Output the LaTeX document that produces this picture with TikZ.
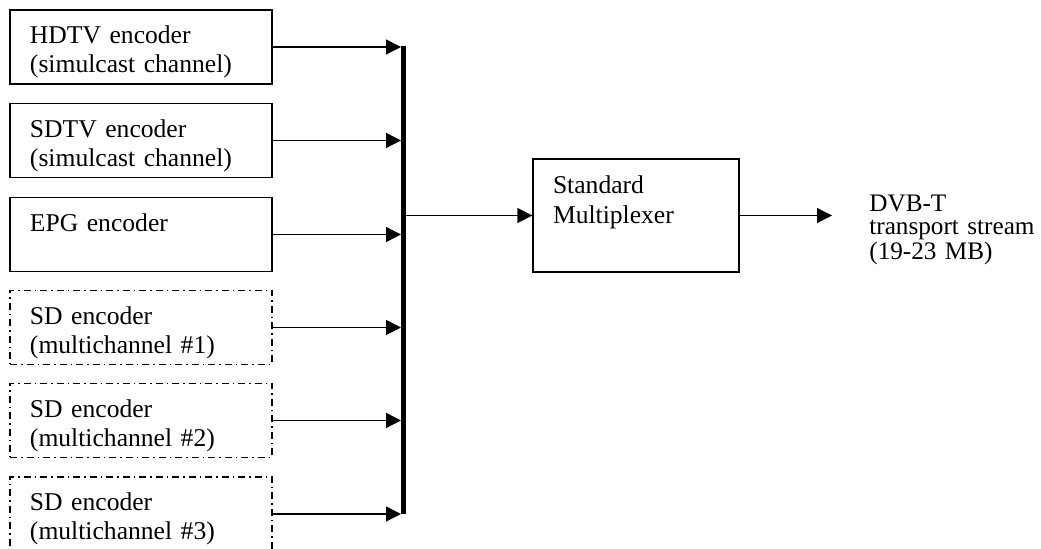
\documentclass[tikz,border=0pt]{standalone}
\usepackage{fontspec}
\setmainfont{Liberation Serif}
\usetikzlibrary{arrows.meta}

\begin{document}
\begin{tikzpicture}[x=0.5pt,y=-0.5pt,
   enc/.style={draw,line width=0.65pt,align=left,text width=111pt,inner xsep=10pt,inner ysep=0pt,
      text height=17pt,text depth=20pt,font=\fontsize{12.8pt}{14.3pt}\selectfont},
   sdenc/.style={enc,dash pattern=on 3.5pt off 2pt on 0.75pt off 2pt},
   mux/.style={draw,line width=0.65pt,align=left,text width=83pt,inner xsep=10pt,inner ysep=0pt,
      text height=17.5pt,text depth=39pt,font=\fontsize{12.8pt}{15pt}\selectfont},
   outtxt/.style={anchor=base west,align=left,text width=95pt,inner sep=0pt,
      font=\fontsize{12.6pt}{11.4pt}\selectfont},
   arr/.style={line width=0.65pt,-{Triangle[length=7.5pt,width=7.5pt]}},
   bus/.style={line width=2.7pt}]
   \useasboundingbox (0,0) rectangle (1041,549);
   %encoders
   \node[enc] (hdtv) at (141,47) {HDTV encoder\\(simulcast channel)};
   \node[enc] (sdtv) at (141,140.5) {SDTV encoder\\(simulcast channel)};
   \node[enc] (epg) at (141,234.5) {EPG encoder};
   \node[sdenc] (sda) at (141,327.5) {SD encoder\\(multichannel \#1)};
   \node[sdenc] (sdb) at (141,420.5) {SD encoder\\(multichannel \#2)};
   \node[sdenc] (sdc) at (141,514) {SD encoder\\(multichannel \#3)};
   %bus
   \coordinate (bustop) at (403.3,46);
   \coordinate (busbot) at (403.3,514);
   \coordinate (busin) at (401,0);
   \draw[bus] (bustop) -- (busbot);
   \draw[arr] (hdtv.east) -- (hdtv.east -| busin);
   \draw[arr] (sdtv.east) -- (sdtv.east -| busin);
   \draw[arr] (epg.east) -- (epg.east -| busin);
   \draw[arr] (sda.east) -- (sda.east -| busin);
   \draw[arr] (sdb.east) -- (sdb.east -| busin);
   \draw[arr] (sdc.east) -- (sdc.east -| busin);
   %multiplexer
   \node[mux] (mux) at (636,215.5) {Standard\\Multiplexer};
   \draw[arr] (mux.west -| bustop) -- (mux.west);
   %output
   \node[outtxt] (dvbt) at (869,212) {DVB-T\\transport stream\\(19-23 MB)};
   \coordinate (outtip) at (832,215.5);
   \draw[arr] (mux.east) -- (outtip);
\end{tikzpicture}
\end{document}
